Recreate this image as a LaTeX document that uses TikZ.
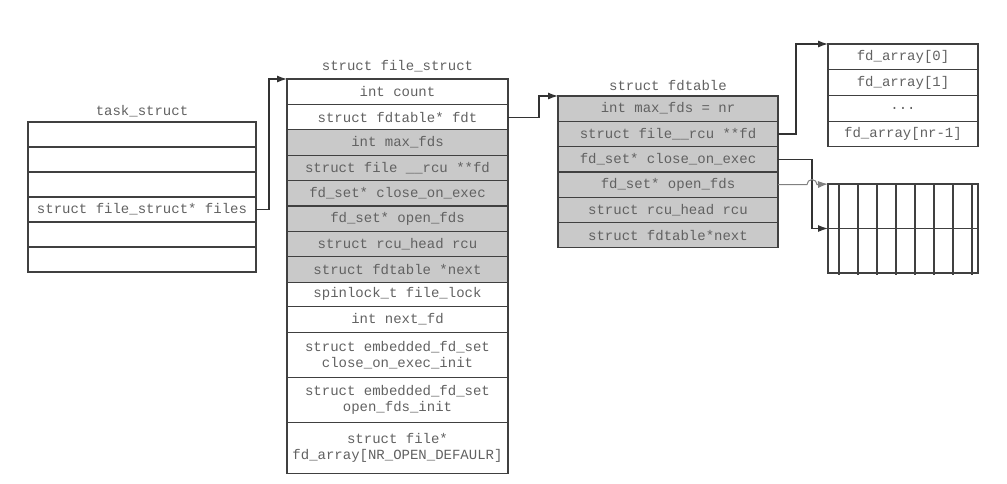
\documentclass[tikz,border=0pt]{standalone}
\usepackage{fontspec}
\setmonofont{Liberation Mono}
\usetikzlibrary{positioning,arrows.meta,calc}
\tikzset{
	field/.style={draw=black!75, line width=1.2pt, outer sep=0pt, inner sep=0pt, minimum height=25.4pt,
		font=\ttfamily\fontsize{14}{16}\selectfont, text=black!62, align=center},
	taskfield/.style={field, minimum width=228pt, minimum height=25pt},
	filefield/.style={field, minimum width=221pt},
	tabfield/.style={field, minimum width=220pt, minimum height=25.3pt, fill=black!21},
	arrfield/.style={field, minimum width=150pt, minimum height=25.7pt},
	shade/.style={fill=black!21},
	title/.style={font=\ttfamily\fontsize{14}{16}\selectfont, text=black!62, inner sep=2pt},
	ptr/.style={draw=black!80, line width=1.2pt, -{Latex[length=10pt,width=7pt]}}
}
\begin{document}
\begin{tikzpicture}[x=1pt, y=-1pt]
			%%%%% START %%%%%
			\useasboundingbox (0, 0) rectangle (1007, 483);
			
			% task_struct
			\node[taskfield, anchor=north west] (t1) at (28, 122) {};
			\node[taskfield, below=0pt of t1] (t2) {};
			\node[taskfield, below=0pt of t2] (t3) {};
			\node[taskfield, below=0pt of t3] (files) {struct file\_struct* files};
			\node[taskfield, below=0pt of files] (t5) {};
			\node[taskfield, below=0pt of t5] (t6) {};
			\node[title, above=3pt of t1] (tasktitle) {task\_struct};
			
			% struct file_struct
			\node[filefield, anchor=north west] (fs1) at (287, 79) {int count};
			\node[filefield, below=0pt of fs1] (fdt) {struct fdtable* fdt};
			\node[filefield, shade, below=0pt of fdt] (fs3) {int max\_fds};
			\node[filefield, shade, below=0pt of fs3] (fs4) {struct file \_\_rcu **fd};
			\node[filefield, shade, below=0pt of fs4] (fs5) {fd\_set* close\_on\_exec};
			\node[filefield, shade, below=0pt of fs5] (fs6) {fd\_set* open\_fds};
			\node[filefield, shade, below=0pt of fs6] (fs7) {struct rcu\_head rcu};
			\node[filefield, shade, below=0pt of fs7] (fs8) {struct fdtable *next};
			\node[filefield, minimum height=24pt, below=0pt of fs8] (fs9) {spinlock\_t file\_lock};
			\node[filefield, minimum height=26pt, below=0pt of fs9] (fs10) {int next\_fd};
			\node[filefield, minimum height=45pt, below=0pt of fs10] (fs11) {struct embedded\_fd\_set\\close\_on\_exec\_init};
			\node[filefield, minimum height=45pt, below=0pt of fs11] (fs12) {struct embedded\_fd\_set\\open\_fds\_init};
			\node[filefield, minimum height=51pt, below=0pt of fs12] (fs13) {struct file*\\fd\_array[NR\_OPEN\_DEFAULR]};
			\node[title, above=5pt of fs1] (filetitle) {struct file\_struct};
			
			% struct fdtable
			\node[tabfield, anchor=north west] (ft1) at (558, 96) {int max\_fds = nr};
			\node[tabfield, below=0pt of ft1] (fdp) {struct file\_\_rcu **fd};
			\node[tabfield, below=0pt of fdp] (coe) {fd\_set* close\_on\_exec};
			\node[tabfield, below=0pt of coe] (ofd) {fd\_set* open\_fds};
			\node[tabfield, below=0pt of ofd] (ft5) {struct rcu\_head rcu};
			\node[tabfield, below=0pt of ft5] (ft6) {struct fdtable*next};
			\node[title, above=3pt of ft1] (tabtitle) {struct fdtable};
			
			% fd_array
			\node[arrfield, anchor=north west] (arr0) at (828, 44) {fd\_array[0]};
			\node[arrfield, below=0pt of arr0] (arr1) {fd\_array[1]};
			\node[arrfield, below=0pt of arr1] (arr2) {...};
			\node[arrfield, below=0pt of arr2] (arr3) {fd\_array[nr-1]};
			
			% bitmaps
			\node[field, minimum width=150pt, minimum height=89pt, anchor=north west] (bits) at (828, 184) {};
			\draw[black!75, line width=1.2pt] (bits.west) -- (bits.east);
			\foreach \x in {0,...,7}
				\draw[black!75, line width=1.2pt] ($(bits.north west)+(11+19*\x, 0)$) -- ++(0, 91);
			
			% pointers
			\draw[ptr] (files.east) -- ++(13, 0) |- (fs1.north west);
			\draw[ptr] (fdt.east) -- ++(31, 0) |- (ft1.north west);
			\draw[ptr] (fdp.east) -- ++(18, 0) |- (arr0.north west);
			\draw[ptr] (coe.east) -- ++(34, 0) |- (bits.west);
			\draw[ptr, draw=black!50, line width=1pt] (ofd.east) -- ++(29, 0) arc[start angle=180, end angle=360, radius=5] -- (bits.north west);
			
			%%%%% END %%%%%
\end{tikzpicture}
\end{document}
